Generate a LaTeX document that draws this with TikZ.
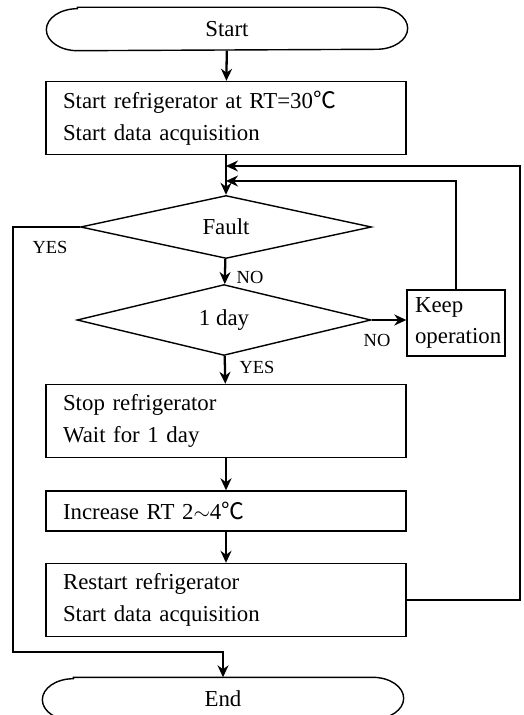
\documentclass[tikz,border=0pt]{standalone}
\usepackage{fontspec}
\setmainfont{Liberation Serif}
\newfontfamily\cjk{Noto Sans CJK KR}
\usepackage{tikz}
\usetikzlibrary{arrows,arrows.meta,shapes.geometric,positioning}
\tikzstyle{terminal}=[rectangle,minimum width=7.2cm,minimum height=0.84cm,font=\fontsize{13}{18}\selectfont,
  append after command={([xshift=0.62cm]\tikzlastnode.north west) -- ([xshift=-0.62cm]\tikzlastnode.north east)
    arc[start angle=90,end angle=-90,x radius=0.62cm,y radius=0.42cm]
    -- ([xshift=0.62cm]\tikzlastnode.south west)
    arc[start angle=270,end angle=90,x radius=0.62cm,y radius=0.42cm] -- cycle}]
\tikzstyle{stepbox}=[draw,line width=0.8pt,rectangle,align=left,text width=6.52cm,inner xsep=0.34cm,minimum height=1.46cm,font=\fontsize{13}{18}\selectfont]
\tikzstyle{decision}=[draw,line width=0.8pt,diamond,inner sep=0pt,font=\fontsize{13}{18}\selectfont]
\tikzstyle{flow}=[->,line width=1.3pt]
\tikzstyle{back}=[->,line width=0.8pt]
\tikzstyle{lbl}=[inner sep=0pt,font=\fontsize{10.5}{12}\selectfont]

\begin{document}
\begin{tikzpicture}[x=0.02cm,y=-0.02cm,>={Stealth[length=0.24cm,width=0.22cm]}]
\useasboundingbox (0,0) rectangle (523,715);
\draw[line width=0.8pt] (227,29) node [terminal] (start) {Start};
\draw (226,118) node [stepbox] (init) {Start refrigerator at RT=30{\cjk ℃}\\Start data acquisition};
\draw (226,227) node [decision, minimum width=5.82cm, minimum height=1.22cm] (fault) {Fault};
\draw (224,320) node [decision, minimum width=5.88cm, minimum height=1.16cm] (day) {1 day};
\draw (456,323) node [stepbox, text width=1.64cm, inner xsep=0.16cm, minimum height=1.32cm] (keep) {Keep\\operation};
\draw (226,421) node [stepbox] (stop) {Stop refrigerator\\Wait for 1 day};
\draw (226,511) node [stepbox, minimum height=0.8cm] (incr) {Increase RT 2$\sim$4{\cjk ℃}};
\draw (226,600) node [stepbox] (restart) {Restart refrigerator\\Start data acquisition};
\draw[line width=0.8pt] (223,699) node [terminal] (end) {End};
% loop back points
\coordinate (j1) at (226,166);
\coordinate (j2) at (226,181);
\coordinate (fb) at (520,166);
\coordinate (yc) at (13,652);
\draw (50,247) node [lbl] (yes1) {YES};
\draw (250,277) node [lbl] (no1) {NO};
\draw (377,340) node [lbl] (no2) {NO};
\draw (257,367) node [lbl] (yes2) {YES};
\draw[flow] (start) -- (init);
\draw[flow] (init) -- (fault);
\draw[flow] (fault) -- (day);
\draw[flow] (day) -- (stop);
\draw[flow] (day.east) -- (day.east -| keep.west);
\draw[flow] (stop) -- (incr);
\draw[flow] (incr) -- (restart);
\draw[back] (keep.north) |- (j2);
\draw[back] (restart.east) -| (fb) -- (j1);
\draw[back] (fault.west) -| (yc) -| (end.north);
\end{tikzpicture}
\end{document}
